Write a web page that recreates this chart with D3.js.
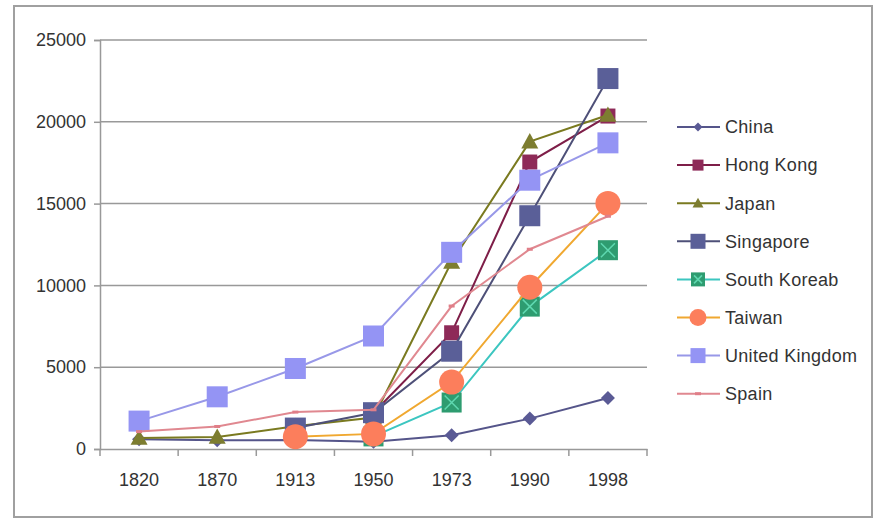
<!DOCTYPE html>
<html><head><meta charset="utf-8">
<script src="https://cdn.jsdelivr.net/npm/d3@7"></script>
<style>body{margin:0;background:#fff}svg{display:block}text{font-family:"Liberation Sans",Arial,sans-serif;fill:#333}</style>
</head><body><svg id="c" width="883" height="523"></svg>
<script>
const years = ["1820","1870","1913","1950","1973","1990","1998"];
const yTicks = [0,5000,10000,15000,20000,25000];
const china     = [600,530,552,439,839,1858,3117];
const hongKong  = [null,null,null,2218,7104,17541,20352];
const japan     = [669,737,1387,1921,11439,18789,20413];
const singapore = [null,null,1279,2219,5977,14258,22643];
const southKorea= [null,null,null,770,2841,8704,12152];
const taiwan    = [null,null,747,924,4091,9886,15012];
const uk        = [1706,3190,4921,6907,12022,16430,18714];
const spain     = [1063,1376,2255,2397,8739,12210,14227];
const names = ["China","Hong Kong","Japan","Singapore","South Koreab","Taiwan","United Kingdom","Spain"];

const series = [
 {name:names[0], vals:china, line:"#55558a", fill:"#5a5a95", shape:"diamond", size:14, lsize:9},
 {name:names[1], vals:hongKong, line:"#7e1e48", fill:"#8e2a58", shape:"square", size:15, lsize:11},
 {name:names[2], vals:japan, line:"#7a7a20", fill:"#7d7d30", shape:"triangle", size:17, lsize:11},
 {name:names[3], vals:singapore, line:"#4e5078", fill:"#5a5f98", shape:"square", size:21, lsize:15},
 {name:names[4], vals:southKorea, line:"#3cc6c0", fill:"#2e9c70", shape:"xsquare", size:20, lsize:14},
 {name:names[5], vals:taiwan, line:"#f0a830", fill:"#fc7e5c", shape:"circle", size:25, lsize:17},
 {name:names[6], vals:uk, line:"#9898e8", fill:"#9494f4", shape:"square", size:21, lsize:15},
 {name:names[7], vals:spain, line:"#e08890", fill:"#e07e88", shape:"dash", size:6, lsize:6}
];

const svg = d3.select("#c");
svg.append("rect").attr("x",14).attr("y",6).attr("width",858).attr("height",511)
  .attr("fill","#fff").attr("stroke","#a0a0a0").attr("stroke-width",2);

const x = d3.scaleBand().domain(years).range([100,647]);
const y = d3.scaleLinear().domain([0,25000]).range([449,40]);

// gridlines
svg.append("g").selectAll("line").data(yTicks.filter(d=>d>0)).join("line")
  .attr("x1",100).attr("x2",647).attr("y1",d=>y(d)).attr("y2",d=>y(d))
  .attr("stroke","#999").attr("stroke-width",1.5);

// y axis
const ya = svg.append("g").attr("transform","translate(100,0)")
  .call(d3.axisLeft(y).tickValues(yTicks).tickSize(6).tickPadding(8).tickFormat(d3.format("d")));
ya.select(".domain").attr("stroke","#999").attr("stroke-width",1.5);
ya.selectAll(".tick line").attr("stroke","#999").attr("stroke-width",1.5);
ya.selectAll("text").style("font-size","18px").attr("fill","#333");

// x axis
const xa = svg.append("g").attr("transform","translate(0,449)")
  .call(d3.axisBottom(x).tickSize(0).tickPadding(24));
xa.select(".domain").attr("stroke","#999").attr("stroke-width",1.5);
xa.selectAll("text").style("font-size","18px").attr("fill","#333");
const bounds = years.map(d=>x(d)).concat([x(years[years.length-1])+x.bandwidth()]);
svg.append("g").selectAll("line").data(bounds).join("line")
  .attr("x1",d=>d).attr("x2",d=>d).attr("y1",449).attr("y2",456)
  .attr("stroke","#999").attr("stroke-width",1.5);

const cx = d=>x(d)+x.bandwidth()/2;

function drawMarker(g, s, px, py, size){
  const h = size/2;
  if(s.shape==="square"){
    g.append("rect").attr("x",px-h).attr("y",py-h).attr("width",size).attr("height",size).attr("fill",s.fill);
  } else if(s.shape==="diamond"){
    g.append("path").attr("d",`M${px},${py-h}L${px+h},${py}L${px},${py+h}L${px-h},${py}Z`).attr("fill",s.fill);
  } else if(s.shape==="triangle"){
    g.append("path").attr("d",`M${px},${py-h}L${px+h},${py+h*0.8}L${px-h},${py+h*0.8}Z`).attr("fill",s.fill);
  } else if(s.shape==="circle"){
    g.append("circle").attr("cx",px).attr("cy",py).attr("r",h).attr("fill",s.fill);
  } else if(s.shape==="xsquare"){
    g.append("rect").attr("x",px-h).attr("y",py-h).attr("width",size).attr("height",size).attr("fill",s.fill);
    g.append("path").attr("d",`M${px-h+3},${py-h+3}L${px+h-3},${py+h-3}M${px+h-3},${py-h+3}L${px-h+3},${py+h-3}`)
      .attr("stroke","#5fd8b0").attr("stroke-width",1.5);
  } else if(s.shape==="dash"){
    g.append("rect").attr("x",px-h).attr("y",py-1.5).attr("width",size).attr("height",3).attr("fill",s.fill);
  }
}

const line = d3.line().defined(d=>d.v!=null).x(d=>cx(d.year)).y(d=>y(d.v));
series.forEach(s=>{
  const pts = years.map((yr,i)=>({year:yr, v:s.vals[i]}));
  const g = svg.append("g");
  g.append("path").attr("d",line(pts)).attr("fill","none").attr("stroke",s.line).attr("stroke-width",2);
  pts.filter(p=>p.v!=null).forEach(p=>drawMarker(g,s,cx(p.year),y(p.v),s.size));
});

// legend
const lg = svg.append("g");
series.forEach((s,i)=>{
  const ly = 127 + i*38.1;
  lg.append("line").attr("x1",677).attr("x2",720).attr("y1",ly).attr("y2",ly).attr("stroke",s.line).attr("stroke-width",2);
  drawMarker(lg,s,698,ly,s.lsize);
  lg.append("text").attr("x",725).attr("y",ly).attr("dy","0.35em").style("font-size","18px")
    .style("letter-spacing","0.3px").text(s.name);
});
</script></body></html>
